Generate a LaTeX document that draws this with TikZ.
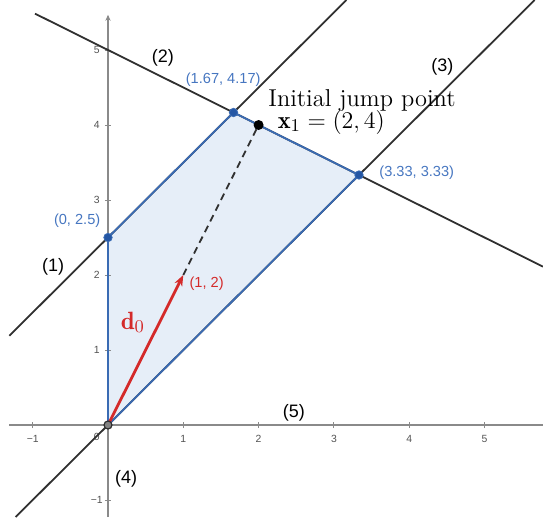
\documentclass[tikz,border=0pt]{standalone}
\usepackage{fontspec}
\newfontfamily\lab{Liberation Sans}
\usetikzlibrary{arrows.meta}
\definecolor{polyblue}{HTML}{3A6BB3}
\definecolor{polyfill}{HTML}{E6EEF8}
\definecolor{dotblue}{HTML}{2456A4}
\definecolor{labblue}{HTML}{4676C0}
\definecolor{dred}{HTML}{D42A2A}
\definecolor{axisgray}{HTML}{8A8A8A}
\definecolor{linegray}{HTML}{303030}
\begin{document}
\begin{tikzpicture}[x=37.65pt,y=37.5pt,
  axisline/.style={draw=axisgray,line width=0.75pt},
  constr/.style={draw=linegray,line width=0.9pt},
  polyedge/.style={draw=polyblue,line width=0.9pt},
  vtx/.style={circle,fill=dotblue,draw=polyblue,inner sep=0pt,minimum size=4.2pt},
  coordlab/.style={text=labblue,font=\lab\fontsize{7.3}{8}\selectfont,inner sep=0pt},
  linelab/.style={text=black,font=\lab\fontsize{9}{10}\selectfont,inner sep=0pt},
  ticklab/.style={text=axisgray!60!black,font=\lab\fontsize{5.2}{6}\selectfont,inner sep=0pt},
  tickmark/.style={draw=axisgray,line width=0.5pt}]
\useasboundingbox (-1.4343,-1.2267) rectangle (5.7769,5.6667);
% key points
\coordinate (O) at (0,0);
\coordinate (A) at (0,2.5);
\coordinate (B) at (5/3,25/6);
\coordinate (C) at (10/3,10/3);
\coordinate (D) at (1,2);
% feasible region fill
\fill[polyfill] (O) -- (A) -- (B) -- (C) -- cycle;
% axes
\coordinate (xl) at (-1.31,0);
\coordinate (xr) at (5.7769,0);
\coordinate (yb) at (0,-1.2267);
\coordinate (yt) at (0,5.47);
\draw[axisline] (xl) -- (xr);
\draw[axisline,-{Stealth[length=3pt,width=2.6pt]}] (yb) -- (yt);
\foreach \i in {-1,1,2,3,4,5} {
  \draw[tickmark] (\i,-0.04) -- (\i,0.04);
  \node[ticklab] at (\i,-0.19) {\ifnum\i<0 \textminus1\else\i\fi};
}
\foreach \j in {-1,1,2,3,4,5} {
  \draw[tickmark] (-0.04,\j) -- (0.04,\j);
  \node[ticklab] at (-0.15,\j) {\ifnum\j<0 \textminus1\else\j\fi};
}
\node[ticklab] at (-0.15,-0.16) {0};
% constraint lines
\coordinate (l1a) at (-1.31,1.19);
\coordinate (l1b) at (3.1667,5.6667);
\coordinate (l2a) at (-0.97,5.485);
\coordinate (l2b) at (5.7769,2.1116);
\coordinate (l3a) at (-1.2267,-1.2267);
\coordinate (l3b) at (5.6667,5.6667);
\draw[constr] (l1a) -- (l1b);
\draw[constr] (l2a) -- (l2b);
\draw[constr] (l3a) -- (l3b);
% polygon border
\draw[polyedge] (O) -- (A) -- (B) -- (C) -- cycle;
% dashed jump line
\coordinate (X1) at (2,4);
\draw[linegray,line width=0.9pt,dash pattern=on 3.5pt off 2.5pt] (D) -- (X1);
% direction arrow
\draw[dred,line width=1.4pt,-{Stealth[length=5.5pt,width=4.2pt]}] (O) -- (D);
% points
\node[vtx] (pA) at (A) {};
\node[vtx] (pB) at (B) {};
\node[vtx] (pC) at (C) {};
\node[circle,fill=linegray!60,draw=linegray,line width=0.6pt,inner sep=0pt,minimum size=4pt] (pO) at (O) {};
\node[circle,fill=black,inner sep=0pt,minimum size=5pt] (pX) at (X1) {};
% labels
\node[coordlab] (tA) at (-0.41,2.72) {(0, 2.5)};
\node[coordlab] (tB) at (1.53,4.61) {(1.67, 4.17)};
\node[coordlab] (tC) at (4.10,3.37) {(3.33, 3.33)};
\node[text=dred,font=\lab\fontsize{7.3}{8}\selectfont,inner sep=0pt] (tD) at (1.31,1.89) {(1, 2)};
\node[text=dred,inner sep=0pt,font=\fontsize{12.5}{14}\selectfont] (td) at (0.33,1.37) {$\mathbf{d}_0$};
\node[anchor=base west,inner sep=0pt,font=\fontsize{12.2}{14}\selectfont] (tI) at (2.125,4.25) {Initial jump point};
\node[anchor=base west,inner sep=0pt,font=\fontsize{12.2}{14}\selectfont] (tX) at (2.25,3.96) {$\mathbf{x}_1 = (2, 4)$};
\node[linelab] (n1) at (-0.73,2.11) {(1)};
\node[linelab] (n2) at (0.73,4.89) {(2)};
\node[linelab] (n3) at (4.44,4.77) {(3)};
\node[linelab] (n4) at (0.24,-0.72) {(4)};
\node[linelab] (n5) at (2.47,0.16) {(5)};
\end{tikzpicture}
\end{document}
